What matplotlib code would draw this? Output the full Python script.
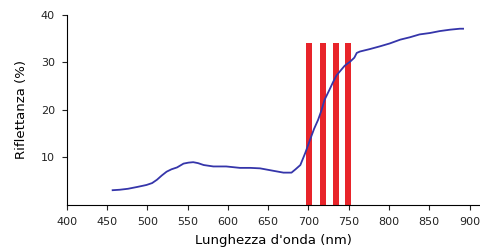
import matplotlib
matplotlib.use("Agg")
import matplotlib.pyplot as plt

# spectrum
wavelength = [457, 466, 476, 488, 499, 506, 512, 518, 524, 530, 537, 545, 551, 557, 563, 570,
              582, 598, 615, 628, 640, 656, 669, 679, 684, 690, 696, 702, 707, 712, 716, 720,
              726, 731, 735, 739, 745, 752, 757, 760, 764, 776, 789, 801, 814, 826, 838, 851,
              863, 876, 888, 892]
reflect = [3.1, 3.2, 3.4, 3.8, 4.2, 4.6, 5.3, 6.2, 7.0, 7.5, 7.9, 8.7, 8.9, 9.0, 8.8, 8.4,
           8.1, 8.1, 7.8, 7.8, 7.7, 7.2, 6.8, 6.8, 7.5, 8.4, 10.9, 13.7, 16.0, 17.9, 19.8, 22.1,
           24.2, 26.0, 27.3, 28.1, 29.3, 30.2, 31.0, 32.0, 32.3, 32.8, 33.4, 34.0, 34.8, 35.3, 35.9, 36.2,
           36.6, 36.9, 37.1, 37.1]

bands = [701, 718, 734, 749]
band_height = [34, 34, 34, 34]

fig = plt.figure(figsize=(4.8, 2.49), dpi=100)
ax = fig.add_axes([0.139, 0.177, 0.861, 0.763])

ax.bar(bands, band_height, width=7, color="#e8242a", zorder=1)
ax.plot(wavelength, reflect, color="#3535aa", linewidth=1.3, zorder=2)

ax.set_xlim(400, 913)
ax.set_ylim(0, 40)
ax.set_xticks(range(400, 901, 50))
ax.set_yticks([10, 20, 30, 40])
ax.tick_params(labelsize=8, length=3.6, width=0.8, pad=5, colors="#222222")
for s in ["top", "right"]:
    ax.spines[s].set_visible(False)
ax.spines["left"].set_linewidth(0.8)
ax.spines["bottom"].set_linewidth(0.8)

ax.set_xlabel("Lunghezza d'onda (nm)", fontsize=9.5, labelpad=5)
ax.set_ylabel("Riflettanza (%)", fontsize=9.5, labelpad=9)

fig.savefig("out.png", dpi=100)
